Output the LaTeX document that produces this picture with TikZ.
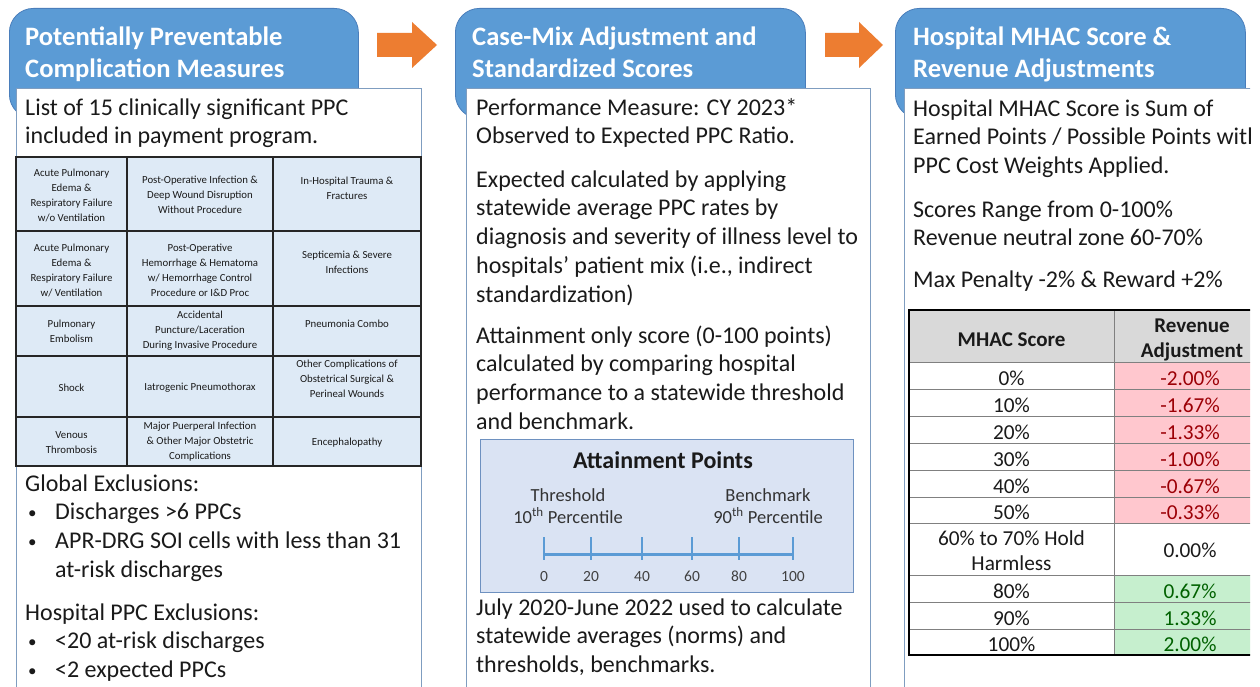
\documentclass[tikz,border=0pt]{standalone}
\usepackage{fontspec}
\setmainfont{Carlito}
\definecolor{tabblue}{HTML}{5B9BD5}
\definecolor{tabedge}{HTML}{4A7EBB}
\definecolor{boxedge}{HTML}{7F9DC0}
\definecolor{cellblue}{HTML}{DEEAF6}
\definecolor{attfill}{HTML}{DAE3F3}
\definecolor{attedge}{HTML}{6E91C0}
\definecolor{axisblue}{HTML}{5B9BD5}
\definecolor{arroworange}{HTML}{ED7D31}
\definecolor{badfill}{HTML}{FFC7CE}
\definecolor{badtext}{HTML}{9C0006}
\definecolor{goodfill}{HTML}{C6EFCE}
\definecolor{goodtext}{HTML}{006100}
\definecolor{hdrgray}{HTML}{D9D9D9}
\definecolor{txt}{HTML}{1A1A1A}
\definecolor{innergray}{HTML}{808080}
\tikzset{
  tabshape/.style={draw=tabedge, line width=0.8pt, fill=tabblue, rounded corners=24pt, anchor=north west, inner sep=0},
  whitebox/.style={draw=boxedge, line width=1.1pt, fill=white, anchor=north west, inner sep=0},
  tabtitle/.style={font=\fontsize{26.6}{32}\selectfont\bfseries, text=white, align=left, anchor=north west, inner sep=0},
  body/.style={font=\fontsize{24}{28.8}\selectfont, text=txt, align=left, anchor=north west, inner sep=0},
  cell/.style={font=\fontsize{10.8}{15}\selectfont, text=txt, align=center, inner sep=0},
  gridline/.style={draw=black!85, line width=1.2pt},
  arrowshape/.style={fill=arroworange},
  atttext/.style={font=\fontsize{18.5}{22}\selectfont, text=black!80, align=center, anchor=north, inner sep=0},
  ticklabel/.style={font=\fontsize{15.5}{18}\selectfont, text=black!75, anchor=base, inner sep=0},
  tval/.style={font=\fontsize{21.3}{25}\selectfont, anchor=base, inner sep=0, text=txt},
  thead/.style={font=\fontsize{21}{25}\selectfont\bfseries, inner sep=0, text=txt, align=center}
}
\newcommand{\bul}{\hspace*{3pt}\makebox[27pt][l]{\raisebox{1.5pt}{\fontsize{17}{17}\selectfont•}}}
\begin{document}
\begin{tikzpicture}[x=1pt,y=-1pt]
\useasboundingbox (0,0) rectangle (1260,687);
\fill[white] (0,0) rectangle (1260,687);
\begin{scope}
\clip (0,0) rectangle (1250,687);

% ---------- tabs ----------
\node[tabshape, minimum width=349, minimum height=110] (tab1) at (9,8) {};
\node[tabshape, minimum width=350, minimum height=110] (tab2) at (455,8) {};
\node[tabshape, minimum width=350, minimum height=110] (tab3) at (895,8) {};

% ---------- arrows ----------
\fill[arrowshape] (377,33) -- (412,33) -- (412,22) -- (437,45) -- (412,68) -- (412,57) -- (377,57) -- cycle;
\fill[arrowshape] (825,33) -- (859,33) -- (859,22) -- (883,45) -- (859,68) -- (859,57) -- (825,57) -- cycle;

% ---------- white boxes ----------
\node[whitebox, minimum width=405, minimum height=640] (box1) at (16,88) {};
\node[whitebox, minimum width=404, minimum height=640] (box2) at (466,88) {};
\node[whitebox, minimum width=400, minimum height=640] (box3) at (904,88) {};

% ---------- titles ----------
\node[tabtitle] (title1) at (25,22.6) {\strut Potentially Preventable\\Complication Measures};
\node[tabtitle] (title2) at (472,22.6) {\strut Case-Mix Adjustment and\\Standardized Scores};
\node[tabtitle] (title3) at (913,22.6) {\strut Hospital MHAC Score \&\\Revenue Adjustments};

% ---------- column 1 ----------
\node[body] (c1p1) at (25,94.8) {\strut List of 15 clinically significant PPC\\included in payment program.};

\fill[cellblue] (16,157) rectangle (421,466);
\draw[gridline] (16,157) rectangle (421,466);
\draw[gridline] (127,157) -- (127,466);
\draw[gridline] (273,157) -- (273,466);
\foreach \yy in {231,306,356,417} \draw[gridline] (16,\yy) -- (421,\yy);

\node[cell] (c11) at (71.5,195) {Acute Pulmonary\\Edema \&\\Respiratory Failure\\w/o Ventilation};
\node[cell] (c12) at (200,195) {Post-Operative Infection \&\\Deep Wound Disruption\\Without Procedure};
\node[cell] (c13) at (347,188) {In-Hospital Trauma \&\\Fractures};
\node[cell] (c21) at (71.5,270) {Acute Pulmonary\\Edema \&\\Respiratory Failure\\w/ Ventilation};
\node[cell] (c22) at (200,270) {Post-Operative\\Hemorrhage \& Hematoma\\w/ Hemorrhage Control\\Procedure or I\&D Proc};
\node[cell] (c23) at (347,262) {Septicemia \& Severe\\Infections};
\node[cell] (c31) at (71.5,331) {Pulmonary\\Embolism};
\node[cell] (c32) at (200,331) {Accidental\\Puncture/Laceration\\During Invasive Procedure};
\node[cell] (c33) at (347,324) {Pneumonia Combo};
\node[cell] (c41) at (71.5,388) {Shock};
\node[cell] (c42) at (200,388) {Iatrogenic Pneumothorax};
\node[cell] (c43) at (347,379) {Other Complications of\\Obstetrical Surgical \&\\Perineal Wounds};
\node[cell] (c51) at (71.5,443) {Venous\\Thrombosis};
\node[cell] (c52) at (200,442) {Major Puerperal Infection\\\& Other Major Obstetric\\Complications};
\node[cell] (c53) at (347,443) {Encephalopathy};

\node[body] (c1p2) at (25,470.8) {\strut Global Exclusions:\\
\bul Discharges >6 PPCs\\
\bul APR-DRG SOI cells with less than 31\\
\hspace*{30pt}at-risk discharges};
\node[body] (c1p3) at (25,599.8) {\strut Hospital PPC Exclusions:\\
\bul <20 at-risk discharges\\
\bul <2 expected PPCs};

% ---------- column 2 ----------
\node[body] (c2p1) at (476,94.8) {\strut Performance Measure: CY 2023*\\Observed to Expected PPC Ratio.};
\node[body] (c2p2) at (476,166.8) {\strut Expected calculated by applying\\statewide average PPC rates by\\diagnosis and severity of illness level to\\hospitals’ patient mix (i.e., indirect\\standardization)};
\node[body] (c2p3) at (476,322.8) {\strut Attainment only score (0-100 points)\\calculated by comparing hospital\\performance to a statewide threshold\\and benchmark.};

\node[draw=attedge, line width=1.1pt, fill=attfill, anchor=north west, minimum width=373, minimum height=153, inner sep=0] (attbox) at (480,439) {};
\node[font=\fontsize{24}{28}\selectfont\bfseries, text=txt, anchor=base, inner sep=0] (atttitle) at (663,468) {Attainment Points};
\node[atttext] (thresh) at (568,485.6) {\strut Threshold\\10\textsuperscript{th} Percentile};
\node[atttext] (bench) at (768,485.6) {\strut Benchmark\\90\textsuperscript{th} Percentile};
\draw[axisblue, line width=3pt] (544,554) -- (793,554);
\foreach \xx/\lab in {544/0,591/20,642/40,692/60,739/80,793/100}{
  \draw[axisblue, line width=1.4pt] (\xx,537) -- (\xx,560);
  \node[ticklabel] (tick\lab) at (\xx,581) {\lab};
}

\node[body] (c2p4) at (476,594.8) {\strut July 2020-June 2022 used to calculate\\statewide averages (norms) and\\thresholds, benchmarks.};

% ---------- column 3 ----------
\node[body] (c3p1) at (913,95.8) {\strut Hospital MHAC Score is Sum of\\Earned Points / Possible Points with\\PPC Cost Weights Applied.};
\node[body] (c3p2) at (913,196.8) {\strut Scores Range from 0-100\%\\Revenue neutral zone 60-70\%};
\node[body] (c3p3) at (913,266.8) {\strut Max Penalty -2\% \& Reward +2\%};

% MHAC table
\fill[hdrgray] (909,310) rectangle (1260,362);
\fill[badfill] (1114,362) rectangle (1260,523);
\fill[goodfill] (1114,575) rectangle (1260,655);
\foreach \yy in {362,389.5,416.5,443.5,470.5,497,523,575,602,629}
  \draw[innergray, line width=1pt] (909,\yy) -- (1260,\yy);
\draw[innergray, line width=1pt] (1114,310) -- (1114,655);
\draw[black, line width=1.3pt] (1260,310) -- (909,310) -- (909,655) -- (1260,655);

\node[thead, anchor=base] (hscore) at (1011.5,346) {MHAC Score};
\node[thead, anchor=north] (hrev) at (1192,314.5) {\strut Revenue\\Adjustment};

\foreach \cy/\sc/\va/\nm in {375.75/0/-2.00/a,403/10/-1.67/b,430/20/-1.33/c,457/30/-1.00/d,483.75/40/-0.67/e,510/50/-0.33/f}{
  \node[tval] (s\nm) at (1011.5,\cy+9.5) {\sc\%};
  \node[tval, text=badtext] (v\nm) at (1190,\cy+9.5) {\va\%};
}
\node[font=\fontsize{21.3}{25}\selectfont, text=txt, align=center, anchor=north, inner sep=0] (sg) at (1011.5,527.5) {\strut 60\% to 70\% Hold\\Harmless};
\node[tval] (vg) at (1190,557) {0.00\%};
\foreach \cy/\sc/\va/\nm in {588.5/80/0.67/h,615.5/90/1.33/i,642/100/2.00/j}{
  \node[tval] (s\nm) at (1011.5,\cy+9.5) {\sc\%};
  \node[tval, text=goodtext] (v\nm) at (1190,\cy+9.5) {\va\%};
}
\end{scope}
\end{tikzpicture}
\end{document}
